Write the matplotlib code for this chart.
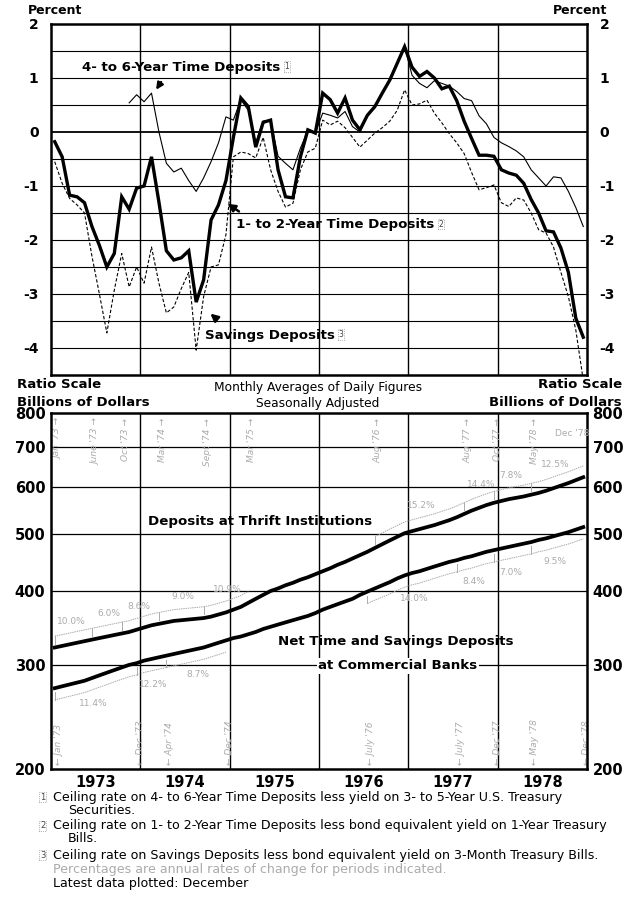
import matplotlib
matplotlib.use("Agg")
import matplotlib.pyplot as plt
import matplotlib.transforms as mtransforms
import numpy as np

# ---- data ----
months = 1973 + (np.arange(72) + 0.5) / 12.0

# 1- to 2-year time deposits spread (percent)
spread_1to2 = [
    -0.18, -0.46, -1.17, -1.20, -1.31, -1.75, -2.10, -2.50, -2.25, -1.20, -1.43, -1.04,
    -1.00, -0.46, -1.30, -2.20, -2.37, -2.33, -2.20, -3.15, -2.74, -1.63, -1.35, -0.90,
    -0.10, 0.63, 0.47, -0.28, 0.18, 0.22, -0.70, -1.20, -1.22, -0.46, 0.04, -0.02,
    0.72, 0.60, 0.35, 0.63, 0.22, 0.04, 0.31, 0.47, 0.72, 0.96, 1.27, 1.58,
    1.20, 1.03, 1.12, 1.00, 0.80, 0.85, 0.58, 0.20, -0.12, -0.43, -0.43, -0.45,
    -0.70, -0.76, -0.80, -0.95, -1.25, -1.50, -1.83, -1.85, -2.15, -2.60, -3.45, -3.80,
]
# 4- to 6-year time deposits spread, starts Nov 1973
spread_4to6_start = 10
spread_4to6 = [
    0.54, 0.69,
    0.56, 0.72, 0.00, -0.58, -0.74, -0.67, -0.90, -1.10, -0.85, -0.55, -0.20, 0.28,
    0.22, 0.60, 0.40, -0.20, 0.20, 0.22, -0.45, -0.58, -0.70, -0.30, 0.02, -0.02,
    0.35, 0.31, 0.26, 0.38, 0.10, 0.00, 0.30, 0.47, 0.72, 0.96, 1.27, 1.58,
    1.05, 0.90, 0.82, 0.95, 0.90, 0.85, 0.75, 0.62, 0.58, 0.30, 0.15, -0.10,
    -0.20, -0.27, -0.35, -0.46, -0.70, -0.85, -1.00, -0.83, -0.85, -1.10, -1.40, -1.75,
]
# savings deposits spread
spread_savings = [
    -0.55, -0.95, -1.23, -1.35, -1.50, -2.30, -3.00, -3.72, -2.93, -2.25, -2.87, -2.50,
    -2.80, -2.13, -2.80, -3.35, -3.24, -2.90, -2.60, -4.04, -3.05, -2.50, -2.46, -1.90,
    -0.46, -0.37, -0.40, -0.48, -0.10, -0.70, -1.10, -1.39, -1.32, -0.70, -0.37, -0.30,
    0.22, 0.13, 0.20, 0.08, -0.10, -0.28, -0.15, -0.02, 0.08, 0.20, 0.40, 0.78,
    0.50, 0.52, 0.59, 0.35, 0.17, -0.03, -0.20, -0.40, -0.75, -1.07, -1.03, -0.98,
    -1.31, -1.38, -1.22, -1.26, -1.50, -1.81, -1.87, -2.13, -2.60, -3.05, -3.67, -4.60,
]

# deposits, billions of dollars
thrift = [
    321, 323, 325, 327, 329, 331, 333, 335, 337, 339, 341, 344,
    347, 350, 352, 354, 356, 357, 358, 359, 360, 362, 365, 368,
    372, 376, 382, 388, 394, 400, 404, 409, 413, 418, 422, 427,
    432, 437, 443, 448, 454, 460, 466, 473, 480, 487, 494, 501,
    505, 509, 513, 517, 522, 527, 533, 540, 547, 553, 559, 564,
    568, 572, 575, 578, 582, 586, 591, 597, 603, 609, 616, 623,
]
banks = [
    274, 276, 278, 280, 282, 285, 288, 291, 294, 297, 300, 302,
    305, 307, 309, 311, 313, 315, 317, 319, 321, 324, 327, 330,
    333, 335, 338, 341, 345, 348, 351, 354, 357, 360, 363, 367,
    372, 376, 380, 384, 388, 394, 399, 404, 409, 414, 420, 425,
    429, 432, 436, 440, 444, 448, 451, 455, 458, 462, 466, 469,
    472, 475, 478, 481, 484, 488, 491, 495, 499, 503, 508, 513,
]

# growth-rate periods (month index) and labels
thrift_periods = [(0, 5), (5, 9), (9, 14), (14, 20), (20, 26), (43, 55), (55, 59), (59, 64), (64, 71)]
thrift_rates = ["10.0%", "6.0%", "8.6%", "9.0%", "10.9%", "15.2%", "14.4%", "7.8%", "12.5%"]
bank_periods = [(0, 11), (11, 15), (15, 23), (42, 54), (54, 59), (59, 64), (64, 71)]
bank_rates = ["11.4%", "12.2%", "8.7%", "14.0%", "8.4%", "7.0%", "9.5%"]

top_marks = [(0, "Jan '73"), (5, "June '73"), (9, "Oct '73"), (14, "Mar '74"), (20, "Sept '74"),
             (26, "Mar '75"), (43, "Aug '76"), (55, "Aug '77"), (59, "Oct '77"), (64, "May '78")]
bottom_marks = [(0, "Jan '73"), (11, "Dec '73"), (15, "Apr '74"), (23, "Dec '74"), (42, "July '76"),
                (54, "July '77"), (59, "Dec '77"), (64, "May '78"), (71, "Dec '78")]

years = [1973, 1974, 1975, 1976, 1977, 1978]

footnotes = [
    ("1", "Ceiling rate on 4- to 6-Year Time Deposits less yield on 3- to 5-Year U.S. Treasury", "Securities."),
    ("2", "Ceiling rate on 1- to 2-Year Time Deposits less bond equivalent yield on 1-Year Treasury", "Bills."),
    ("3", "Ceiling rate on Savings Deposits less bond equivalent yield on 3-Month Treasury Bills.", None),
]

BOLD = ['DejaVu Sans']
PLAIN = ['DejaVu Sans']
GREY = '#ababab'
LBL = 9.6    # series label size

fig = plt.figure(figsize=(6.4, 9.01), dpi=100)
W, H = 640.0, 901.0


def rect(x0, y0, x1, y1):
    return [x0 / W, 1 - y1 / H, (x1 - x0) / W, (y1 - y0) / H]


def label_with_note(ax, x, y, s, note=None):
    t = ax.text(x, y, s, family=BOLD, fontweight='bold', fontsize=LBL, va='center', ha='left', zorder=6)
    if note:
        ax.annotate(note, xy=(1, 0.55), xycoords=t, xytext=(3, 0), textcoords='offset points',
                    fontsize=5.5, family=PLAIN, va='center', ha='left', color='#444444',
                    bbox=dict(boxstyle='square,pad=0.1', fc='white', ec='#777777', lw=0.5, ls=':'))
    return t


# ---------------- top panel ----------------
ax1 = fig.add_axes(rect(51, 24, 587, 375))
ax1.set_xlim(1973, 1979)
ax1.set_ylim(-4.5, 2)
for v in np.arange(-4, 2, 0.5):
    ax1.axhline(v, color='k', lw=1.3 if v == 0 else 0.8, zorder=1)
for yr in years[1:]:
    ax1.axvline(yr, color='k', lw=1.0, zorder=1)

ax1.plot(months, spread_savings, color='k', lw=0.8, dashes=(3, 1.8), zorder=3)
ax1.plot(months[spread_4to6_start:], spread_4to6, color='k', lw=0.8, zorder=3)
ax1.plot(months, spread_1to2, color='k', lw=2.4, zorder=4, solid_joinstyle='miter')

ax1.set_xticks([])
ax1.set_yticks(range(-4, 3))
ax1.set_yticklabels([str(v) for v in range(-4, 3)], family=BOLD, fontweight='bold', fontsize=10)
ax1.tick_params(axis='y', length=0, pad=9, labelright=True, right=False)
for sp in ax1.spines.values():
    sp.set_linewidth(1.8)

label_with_note(ax1, 1973.35, 1.2, "4- to 6-Year Time Deposits", "1")
ax1.annotate("", xy=(1974.16, 0.74), xytext=(1974.25, 0.97),
             arrowprops=dict(arrowstyle='-|>', color='k', lw=1.6, mutation_scale=10))

label_with_note(ax1, 1975.07, -1.72, "1- to 2-Year Time Deposits", "2")
ax1.annotate("", xy=(1974.95, -1.3), xytext=(1975.13, -1.5),
             arrowprops=dict(arrowstyle='-|>', color='k', lw=1.8, mutation_scale=11))

label_with_note(ax1, 1974.72, -3.76, "Savings Deposits", "3")
ax1.annotate("", xy=(1974.76, -3.33), xytext=(1974.88, -3.5),
             arrowprops=dict(arrowstyle='-|>', color='k', lw=1.8, mutation_scale=11))

fig.text(28 / W, 1 - 10 / H, "Percent", family=BOLD, fontweight='bold', fontsize=9, va='center', ha='left')
fig.text(607 / W, 1 - 10 / H, "Percent", family=BOLD, fontweight='bold', fontsize=9, va='center', ha='right')

# ---------------- middle headers ----------------
fig.text(17 / W, 1 - 385 / H, "Ratio Scale", family=BOLD, fontweight='bold', fontsize=9.5, va='center')
fig.text(17 / W, 1 - 402 / H, "Billions of Dollars", family=BOLD, fontweight='bold', fontsize=9.5, va='center')
fig.text(622 / W, 1 - 385 / H, "Ratio Scale", family=BOLD, fontweight='bold', fontsize=9.5, va='center', ha='right')
fig.text(622 / W, 1 - 402 / H, "Billions of Dollars", family=BOLD, fontweight='bold', fontsize=9.5, va='center', ha='right')
fig.text(318 / W, 1 - 388 / H, "Monthly Averages of Daily Figures", family=PLAIN, fontsize=8.8, va='center', ha='center')
fig.text(318 / W, 1 - 403 / H, "Seasonally Adjusted", family=PLAIN, fontsize=8.8, va='center', ha='center')

# ---------------- bottom panel ----------------
ax2 = fig.add_axes(rect(51, 413, 587, 769))
ax2.set_yscale('log')
ax2.set_xlim(1973, 1979)
ax2.set_ylim(200, 800)
for v in [300, 400, 500, 600, 700]:
    ax2.axhline(v, color='k', lw=0.9, zorder=1)
for yr in years[1:]:
    ax2.axvline(yr, color='k', lw=1.0, zorder=1)

ax2.plot(months, thrift, color='k', lw=2.7, zorder=4)
ax2.plot(months, banks, color='k', lw=2.7, zorder=4)

# growth-rate brackets (grey)
thrift_arr = np.array(thrift, dtype=float)
banks_arr = np.array(banks, dtype=float)
for (a, b), lab in zip(thrift_periods, thrift_rates):
    seg = slice(a, b + 1)
    ax2.plot(months[seg], thrift_arr[seg] * 1.045, color=GREY, lw=0.7, ls=(0, (1.5, 0.8)), zorder=2)
    ax2.plot([months[a], months[a]], [thrift_arr[a] * 1.015, thrift_arr[a] * 1.045], color=GREY, lw=0.7, zorder=2)
    mid = (a + b) // 2
    ax2.text(months[mid] + 0.02, thrift_arr[mid] * 1.095, lab, color=GREY, fontsize=6.5, family=PLAIN,
             ha='center', va='center', zorder=2)
for (a, b), lab in zip(bank_periods, bank_rates):
    seg = slice(a, b + 1)
    ax2.plot(months[seg], banks_arr[seg] * 0.955, color=GREY, lw=0.7, ls=(0, (1.5, 0.8)), zorder=2)
    ax2.plot([months[a], months[a]], [banks_arr[a] * 0.985, banks_arr[a] * 0.955], color=GREY, lw=0.7, zorder=2)
    mid = (a + b) // 2
    ax2.text(months[mid] + 0.02, banks_arr[mid] * 0.905, lab, color=GREY, fontsize=6.5, family=PLAIN,
             ha='center', va='center', zorder=2)

for idx, lab in top_marks:
    ax2.text(months[idx] + 0.04, 785, lab + " \u2192", rotation=90, color=GREY, fontsize=6.5, family=PLAIN,
             style='italic', ha='center', va='top', zorder=2)
ax2.text(months[71] - 0.12, 740, "Dec '78", color=GREY, fontsize=6.5, family=PLAIN, ha='center', va='center')
for idx, lab in bottom_marks:
    ax2.text(months[idx] + 0.04, 203, "\u2190 " + lab, rotation=90, color=GREY, fontsize=6.5, family=PLAIN,
             style='italic', ha='center', va='bottom', zorder=2)

ax2.text(1974.09, 525, "Deposits at Thrift Institutions", family=BOLD, fontweight='bold', fontsize=LBL,
         va='center', ha='left', zorder=6)
ax2.text(1975.54, 328, "Net Time and Savings Deposits", family=BOLD, fontweight='bold', fontsize=LBL,
         va='center', ha='left', zorder=6)
ax2.text(1975.99, 299, "at Commercial Banks", family=BOLD, fontweight='bold', fontsize=LBL,
         va='center', ha='left', zorder=6,
         bbox=dict(boxstyle='square,pad=0.1', fc='white', ec='none'))

ax2.set_yticks([200, 300, 400, 500, 600, 700, 800])
ax2.set_yticklabels(['200', '300', '400', '500', '600', '700', '800'], family=BOLD, fontweight='bold', fontsize=10.5)
ax2.yaxis.set_minor_locator(matplotlib.ticker.NullLocator())
ax2.tick_params(axis='y', which='both', length=0, pad=4, labelright=True, right=False)
ax2.set_xticks([])
for sp in ax2.spines.values():
    sp.set_linewidth(1.8)

trans = mtransforms.blended_transform_factory(ax2.transData, ax2.transAxes)
for yr in years:
    ax2.text(yr + 0.5, -0.037, str(yr), transform=trans, family=BOLD, fontweight='bold', fontsize=10.5,
             ha='center', va='center')

# ---------------- footnotes ----------------
FN = 9.1
y = 797
for num, line1, line2 in footnotes:
    fig.text(40 / W, 1 - y / H, num, family=PLAIN, fontsize=6, va='center', ha='left', color='#444444',
             bbox=dict(boxstyle='square,pad=0.1', fc='white', ec='#777777', lw=0.5, ls=':'))
    fig.text(53 / W, 1 - y / H, line1, family=PLAIN, fontsize=FN, va='center', ha='left')
    if line2:
        y += 13
        fig.text(68 / W, 1 - y / H, line2, family=PLAIN, fontsize=FN, va='center', ha='left')
    y += 16
fig.text(53 / W, 1 - 870 / H, "Percentages are annual rates of change for periods indicated.",
         family=PLAIN, fontsize=FN, color=GREY, va='center', ha='left')
fig.text(53 / W, 1 - 884 / H, "Latest data plotted: December", family=PLAIN, fontsize=FN, va='center', ha='left')

fig.savefig("out.png", dpi=100)
